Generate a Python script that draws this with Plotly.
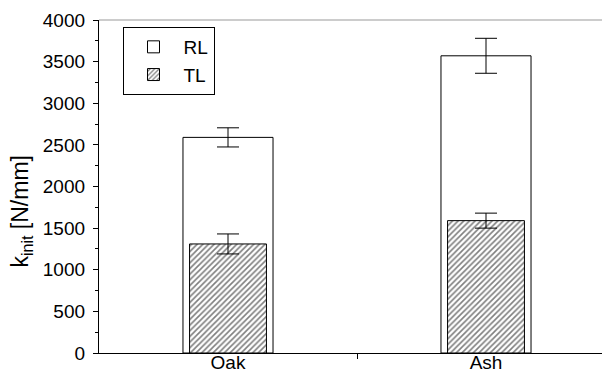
import plotly.graph_objects as go

categories = ["Oak", "Ash"]
rl_values = [2590, 3570]
rl_errors = [115, 210]
tl_values = [1310, 1590]
tl_errors = [120, 90]
y_ticks = [0, 500, 1000, 1500, 2000, 2500, 3000, 3500, 4000]

xpos = list(range(len(categories)))
mid = [(xpos[i] + xpos[i + 1]) / 2 for i in range(len(xpos) - 1)]

FONT = "Liberation Sans, Arial, sans-serif"

fig = go.Figure()
fig.add_trace(go.Bar(
    x=xpos, y=rl_values, name="RL", width=0.349,
    marker=dict(color="white", line=dict(color="black", width=1)),
    error_y=dict(type="data", array=rl_errors, visible=True,
                 color="black", thickness=1, width=11),
))
fig.add_trace(go.Bar(
    x=xpos, y=tl_values, name="TL", width=0.298,
    marker=dict(color="white", line=dict(color="black", width=1),
                pattern=dict(shape="/", fgcolor="black", bgcolor="white",
                             size=4, solidity=0.4)),
    error_y=dict(type="data", array=tl_errors, visible=True,
                 color="black", thickness=1, width=11),
))

fig.update_layout(
    width=602, height=367,
    margin=dict(l=91, r=0, t=12, b=22, autoexpand=False),
    paper_bgcolor="white", plot_bgcolor="white",
    barmode="overlay",
    font=dict(family=FONT, size=19, color="black"),
    showlegend=True,
    legend=dict(x=0.046, y=0.979, xanchor="left", yanchor="top",
                bordercolor="black", borderwidth=1, bgcolor="white",
                font=dict(size=19), tracegroupgap=0, itemwidth=50),
    xaxis=dict(
        range=[-0.5, 1.4806], tickmode="array", tickvals=xpos,
        ticktext=categories, ticks="", ticklen=0, ticklabelstandoff=-8,
        showgrid=False, zeroline=False,
        showline=True, linecolor="black", linewidth=1.3, automargin=False,
        minor=dict(tickmode="array", tickvals=mid, ticks="outside",
                   ticklen=5, tickcolor="black", tickwidth=1, showgrid=False),
    ),
    xaxis2=dict(
        overlaying="x", anchor="y", side="bottom",
        range=[-0.5, 1.4806], tickmode="array", tickvals=mid,
        ticks="inside", ticklen=3, tickcolor="black", tickwidth=1,
        showticklabels=False, showgrid=False, zeroline=False, showline=False,
    ),
    yaxis=dict(
        range=[0, 4000], tickmode="array", tickvals=y_ticks,
        ticks="outside", ticklen=5, tickcolor="black", tickwidth=1,
        showgrid=False, zeroline=False, automargin=False,
        showline=True, linecolor="black", linewidth=1.3,
        ticklabelstandoff=4,
        minor=dict(dtick=250, ticks="outside", ticklen=3,
                   tickcolor="black", tickwidth=1, showgrid=False),
    ),
    shapes=[dict(type="line", xref="paper", yref="paper", x0=0, x1=1,
                 y0=1, y1=1, line=dict(color="#999999", width=1))],
    annotations=[dict(text="k<sub>init</sub> [N/mm]", textangle=-90,
                      xref="paper", yref="paper",
                      x=(22 - 99) / 511, y=(345 - 207) / 325,
                      xanchor="center", yanchor="middle", showarrow=False,
                      font=dict(size=23, color="black"))],
)

fig.write_html("out.html")
